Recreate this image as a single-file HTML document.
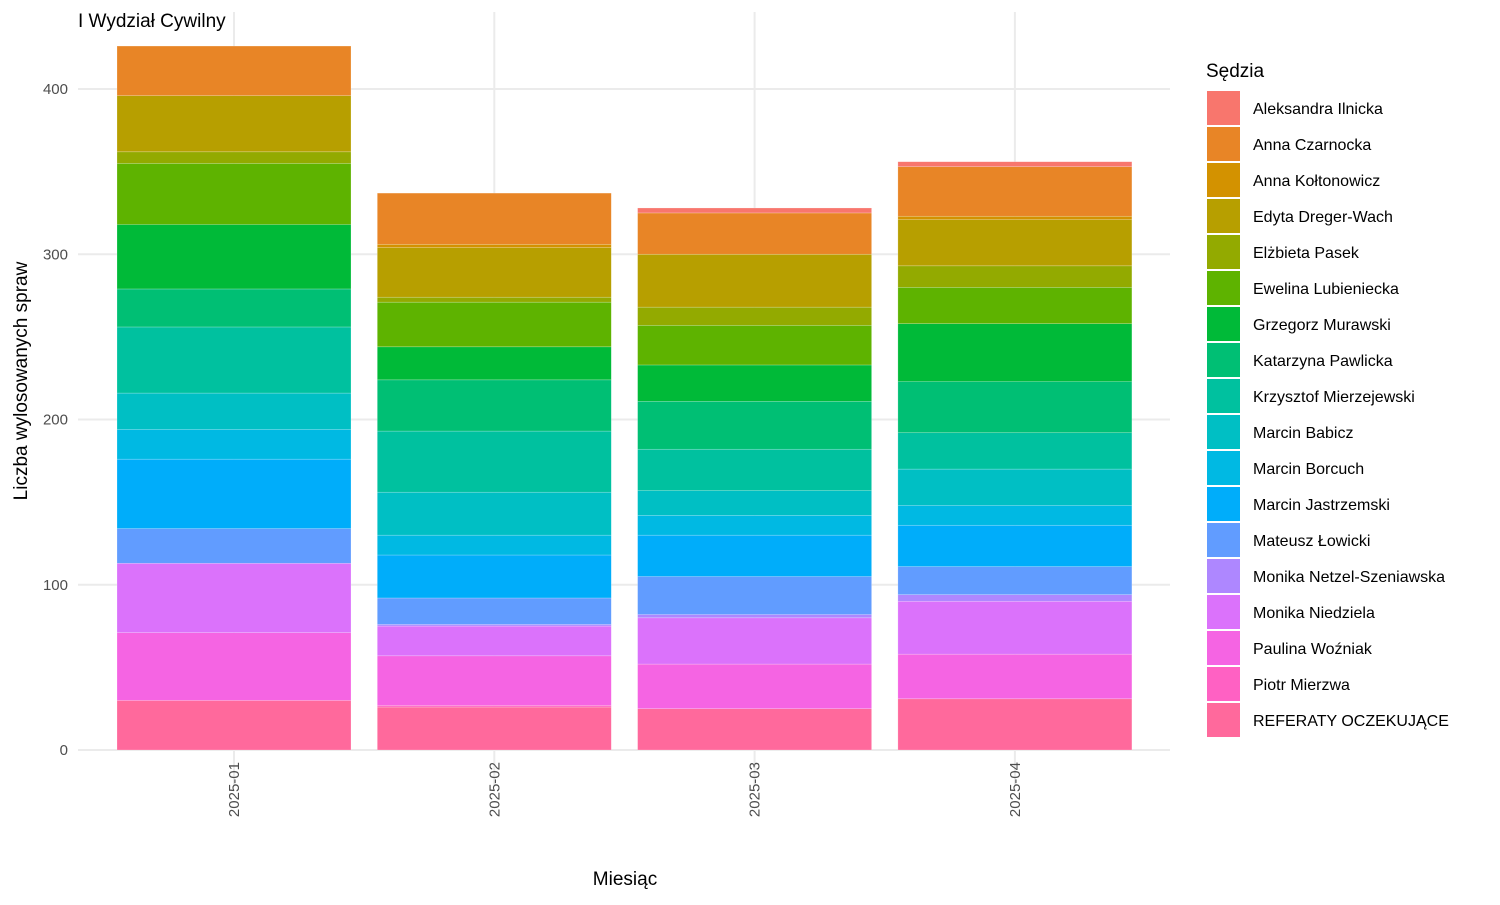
<!DOCTYPE html>
<html><head><meta charset="utf-8"><style>
body{margin:0;background:#fff;}
svg text{font-family:"Liberation Sans",Arial,sans-serif;}
</style></head><body>
<svg id="chart" width="1500" height="900" xmlns="http://www.w3.org/2000/svg">
<text x="78" y="27" font-size="19" fill="#000">I Wydział Cywilny</text>
<g id="grid"></g><g id="bars"></g><g id="axes"></g><g id="legend"></g>
<text x="625" y="885" font-size="19" text-anchor="middle" fill="#000">Miesiąc</text>
<text transform="translate(27,381) rotate(-90)" font-size="19" text-anchor="middle" fill="#000">Liczba wylosowanych spraw</text>
</svg>
<script>
const months = ["2025-01","2025-02","2025-03","2025-04"];
const judges = ["Aleksandra Ilnicka","Anna Czarnocka","Anna Kołtonowicz","Edyta Dreger-Wach","Elżbieta Pasek","Ewelina Lubieniecka","Grzegorz Murawski","Katarzyna Pawlicka","Krzysztof Mierzejewski","Marcin Babicz","Marcin Borcuch","Marcin Jastrzemski","Mateusz Łowicki","Monika Netzel-Szeniawska","Monika Niedziela","Paulina Woźniak","Piotr Mierzwa","REFERATY OCZEKUJĄCE"];
const colors = ["#F8766D","#E88526","#D39200","#B79F00","#93AA00","#5EB300","#00BA38","#00BF74","#00C19F","#00BFC4","#00B9E3","#00ADFA","#619CFF","#AE87FF","#DB72FB","#F564E3","#FF61C3","#FF699C"];
// values per judge (same order as judges), one array per month
const m2025_01 = [0,30,0,34,7,37,39,23,40,22,18,42,21,0,42,41,0,30];
const m2025_02 = [0,31,2,30,3,27,20,31,37,26,12,26,16,1,18,30,1,26];
const m2025_03 = [3,25,0,32,11,24,22,29,25,15,12,25,23,2,28,27,0,25];
const m2025_04 = [3,30,2,28,13,22,35,31,22,22,12,25,17,4,32,27,0,31];
const series = [m2025_01,m2025_02,m2025_03,m2025_04];
const yTicks = [0,100,200,300,400];

const NS="http://www.w3.org/2000/svg";
const y0=750, pxPerUnit=(750-89)/400;
const yScale=v=>y0-v*pxPerUnit;
const xStart=234, xStep=260.3, barW=234;
const xScale=i=>xStart+i*xStep;
function mk(tag,attrs,parent){const e=document.createElementNS(NS,tag);for(const k in attrs)e.setAttribute(k,attrs[k]);parent.appendChild(e);return e;}
const grid=document.getElementById('grid'),bars=document.getElementById('bars'),axes=document.getElementById('axes'),legend=document.getElementById('legend');
yTicks.forEach(t=>{
  const l=mk('line',{x1:78,x2:1170,y1:yScale(t),y2:yScale(t),stroke:'#ebebeb','stroke-width':2},grid);
  
  
  const tx=mk('text',{x:68,y:yScale(t)+5,'font-size':15,'text-anchor':'end',fill:'#4d4d4d'},axes);
  tx.textContent=t;
  
  
});
months.forEach((m,i)=>{
  const l=mk('line',{x1:xScale(i),x2:xScale(i),y1:12,y2:785,stroke:'#ebebeb','stroke-width':2},grid);
  
  
  const tx=mk('text',{transform:`translate(${xScale(i)+5},762) rotate(-90)`,'font-size':15,'text-anchor':'end',fill:'#4d4d4d'},axes);
  tx.textContent=m;
  
  
  const vals=series[i];
  let cum=0;
  for(let j=judges.length-1;j>=0;j--){
    const v=vals[j]; if(v<=0) continue;
    const r=mk('rect',{x:xScale(i)-barW/2,y:yScale(cum+v),width:barW,height:v*pxPerUnit,fill:colors[j],stroke:'rgba(255,255,255,0.35)','stroke-width':0.6},bars);
    
    
    cum+=v;
  }
});
const lt=mk('text',{x:1206,y:77,'font-size':19,fill:'#000'},legend);
lt.textContent='Sędzia';


judges.forEach((j,k)=>{
  const y=91+k*36;
  const r=mk('rect',{x:1207,y:y,width:33,height:34,fill:colors[k]},legend);
  
  
  const t=mk('text',{x:1253,y:y+23,'font-size':16,fill:'#000'},legend);
  t.textContent=j;
  
  
});
</script>
</body></html>
